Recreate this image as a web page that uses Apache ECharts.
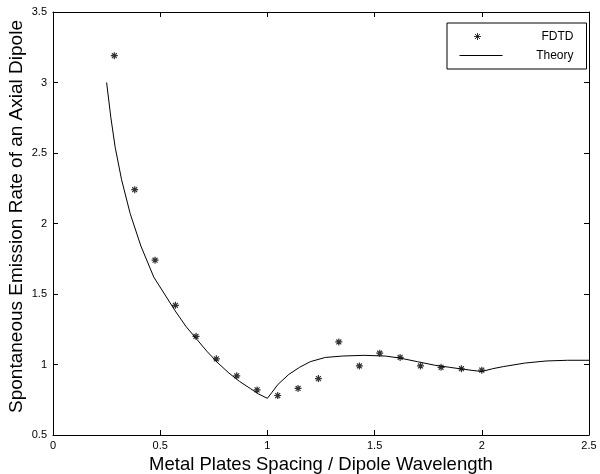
<!DOCTYPE html>
<html>
<head>
<meta charset="utf-8">
<script src="https://cdn.jsdelivr.net/npm/echarts@6/dist/echarts.min.js"></script>
<style>
  html, body { margin: 0; padding: 0; background: #fff; }
  #chart { width: 600px; height: 474px; }
</style>
</head>
<body>
<div id="chart"></div>
<script>
// FDTD samples (spacing / wavelength, emission rate)
const fdtdX = [0.286, 0.381, 0.476, 0.571, 0.667, 0.762, 0.857, 0.952, 1.048, 1.143,
               1.238, 1.333, 1.429, 1.524, 1.619, 1.714, 1.81, 1.905, 2.0];
const fdtdY = [3.19, 2.24, 1.74, 1.42, 1.20, 1.04, 0.92, 0.82, 0.78, 0.83,
               0.90, 1.16, 0.99, 1.08, 1.05, 0.99, 0.98, 0.97, 0.96];

// theory curve
const theoryX = [0.25, 0.27, 0.29, 0.32, 0.36, 0.41, 0.47, 0.52, 0.57, 0.62, 0.67, 0.72,
                 0.77, 0.82, 0.87, 0.92, 0.96, 1.0, 1.02, 1.05, 1.1, 1.15, 1.2, 1.27,
                 1.35, 1.45, 1.55, 1.62, 1.7, 1.78, 1.85, 1.92, 2.0, 2.05, 2.1, 2.2,
                 2.3, 2.4, 2.5];
const theoryY = [3.0, 2.75, 2.54, 2.31, 2.07, 1.84, 1.62, 1.50, 1.38, 1.27, 1.18, 1.09,
                 1.01, 0.94, 0.88, 0.83, 0.79, 0.76, 0.80, 0.86, 0.93, 0.98, 1.02, 1.05,
                 1.06, 1.065, 1.06, 1.045, 1.02, 0.995, 0.98, 0.965, 0.95, 0.97, 0.985, 1.01,
                 1.025, 1.03, 1.03];

const xTicks = { min: 0, max: 2.5, interval: 0.5 };
const yTicks = { min: 0.5, max: 3.5, interval: 0.5 };

const font = 'Liberation Sans, Arial, Helvetica, sans-serif';
// asterisk marker, drawn as strokes
const star = 'path://M5 0L5 10M0 5L10 5M1.5 1.5L8.5 8.5M8.5 1.5L1.5 8.5';
// legend icons: the leading moves pin the box to 43x10 so the marks keep their size
const starIcon = 'path://M0 0M43 10M18 1.5L18 8.5M14.5 5L21.5 5M15.5 2.5L20.5 7.5M20.5 2.5L15.5 7.5';
const lineIcon = 'path://M0 0M43 10M0 5L43 5';

let myChart = echarts.init(document.getElementById('chart'));

const boxAxis = function (pos, t) {
    return {
        type: 'value',
        position: pos,
        min: t.min, max: t.max, interval: t.interval,
        axisLine: { show: true, onZero: false, lineStyle: { color: '#000', width: 1 } },
        axisTick: { show: true, inside: true, length: 5, lineStyle: { color: '#000' } },
        axisLabel: { show: false },
        splitLine: { show: false }
    };
};

let option = {
    backgroundColor: '#fff',
    animation: false,
    grid: { left: 53, right: 11, top: 12, bottom: 39, containLabel: false, outerBoundsMode: 'none' },
    legend: {
        orient: 'vertical',
        left: 447,
        top: 23,
        padding: [6, 13, 6, 10],
        borderColor: '#000',
        borderWidth: 1,
        itemGap: 4,
        itemWidth: 43,
        itemHeight: 10,
        formatter: '{a|{name}}',
        textStyle: {
            fontFamily: font, fontSize: 12, color: '#000',
            rich: { a: { width: 66, align: 'right', fontFamily: font, fontSize: 12, color: '#000' } }
        },
        data: [
            { name: 'FDTD', icon: starIcon, itemStyle: { color: 'none', borderColor: '#000', borderWidth: 1 } },
            { name: 'Theory', icon: lineIcon, itemStyle: { color: 'none', borderColor: '#000', borderWidth: 1 } }
        ]
    },
    xAxis: [
        {
            type: 'value',
            position: 'bottom',
            min: xTicks.min, max: xTicks.max, interval: xTicks.interval,
            name: 'Metal Plates Spacing / Dipole Wavelength',
            nameLocation: 'middle',
            nameGap: 16,
            nameTextStyle: { fontFamily: font, fontSize: 18.5, color: '#000' },
            axisLine: { show: true, onZero: false, lineStyle: { color: '#000', width: 1 } },
            axisTick: { show: true, inside: true, length: 5, lineStyle: { color: '#000' } },
            axisLabel: { fontFamily: font, fontSize: 11, color: '#000', margin: 5 },
            splitLine: { show: false }
        },
        boxAxis('top', xTicks)
    ],
    yAxis: [
        {
            type: 'value',
            position: 'left',
            min: yTicks.min, max: yTicks.max, interval: yTicks.interval,
            name: 'Spontaneous Emission Rate of an Axial Dipole',
            nameLocation: 'middle',
            nameMoveOverlap: false,
            nameGap: 27,
            nameTextStyle: { fontFamily: font, fontSize: 19, color: '#000', padding: [0, 0, 0, 14] },
            axisLine: { show: true, onZero: false, lineStyle: { color: '#000', width: 1 } },
            axisTick: { show: true, inside: true, length: 5, lineStyle: { color: '#000' } },
            axisLabel: { fontFamily: font, fontSize: 11, color: '#000', margin: 6 },
            splitLine: { show: false }
        },
        boxAxis('right', yTicks)
    ],
    series: [
        {
            name: 'FDTD',
            type: 'scatter',
            symbol: star,
            symbolSize: 7,
            itemStyle: { color: 'none', borderColor: '#000', borderWidth: 1.2 },
            data: fdtdX.map((x, i) => [x, fdtdY[i]])
        },
        {
            name: 'Theory',
            type: 'line',
            showSymbol: false,
            symbol: 'none',
            lineStyle: { color: '#000', width: 1 },
            itemStyle: { color: '#000' },
            data: theoryX.map((x, i) => [x, theoryY[i]])
        }
    ]
};
myChart.setOption(option);
</script>
</body>
</html>
